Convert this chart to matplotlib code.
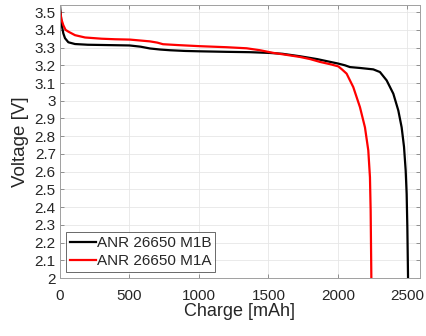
import matplotlib
matplotlib.use('Agg')
import matplotlib.pyplot as plt

plt.rcParams['font.family'] = ['Liberation Sans', 'DejaVu Sans']

# discharge curves
charge_m1b = [0, 5, 12, 24, 36, 60, 108, 200, 350, 500, 580, 647, 720, 791, 900,
              1002, 1200, 1367, 1504, 1600, 1727, 1850, 2000, 2050, 2086, 2158,
              2254, 2302, 2350, 2398, 2434, 2458, 2475, 2487, 2494, 2499, 2504]
volt_m1b = [3.54, 3.49, 3.43, 3.38, 3.353, 3.33, 3.32, 3.316, 3.314, 3.312, 3.305,
            3.295, 3.289, 3.285, 3.281, 3.279, 3.276, 3.274, 3.27, 3.265, 3.251,
            3.235, 3.21, 3.2, 3.19, 3.185, 3.177, 3.162, 3.115, 3.04, 2.945,
            2.85, 2.74, 2.606, 2.474, 2.285, 2.0]

charge_m1a = [0, 10, 24, 40, 60, 108, 180, 300, 396, 504, 647, 700, 741, 850, 1002,
              1200, 1343, 1439, 1535, 1620, 1727, 1800, 1871, 1950, 2002, 2030,
              2062, 2110, 2158, 2194, 2218, 2230, 2235, 2240]
volt_m1a = [3.51, 3.46, 3.426, 3.40, 3.39, 3.37, 3.357, 3.35, 3.347, 3.345, 3.335,
            3.328, 3.319, 3.314, 3.308, 3.302, 3.296, 3.285, 3.27, 3.26, 3.247,
            3.235, 3.219, 3.205, 3.194, 3.176, 3.153, 3.077, 2.964, 2.85, 2.72,
            2.568, 2.38, 2.0]

labels = ['ANR 26650 M1B', 'ANR 26650 M1A']
x_ticks = [0, 500, 1000, 1500, 2000, 2500]
y_ticks = [2.0, 2.1, 2.2, 2.3, 2.4, 2.5, 2.6, 2.7, 2.8, 2.9,
           3.0, 3.1, 3.2, 3.3, 3.4, 3.5]

txt = '#262626'

fig = plt.figure(figsize=(4.27, 3.36), dpi=100)
ax = fig.add_axes([0.1405, 0.1726, 0.8431, 0.8124])

ax.plot(charge_m1b, volt_m1b, color='black', lw=1.6, label=labels[0])
ax.plot(charge_m1a, volt_m1a, color='red', lw=1.6, label=labels[1])

ax.set_xlim(0, 2590)
ax.set_ylim(2.0, 3.54)
ax.set_xticks(x_ticks)
ax.set_yticks(y_ticks)
ax.set_yticklabels([f'{v:g}' for v in y_ticks])
ax.tick_params(direction='in', top=True, right=True, labelsize=11,
               color='#808080', labelcolor=txt, length=3, width=0.6, pad=3)
ax.tick_params(axis='x', pad=8)
ax.grid(True, color='#e6e6e6', lw=0.6)
ax.set_axisbelow(True)
for s in ax.spines.values():
    s.set_color('#a0a0a0')
    s.set_linewidth(0.7)

ax.set_xlabel('Charge [mAh]', fontsize=13, color=txt, va='center')
ax.set_ylabel('Voltage [V]', fontsize=13.5, color=txt, va='center')
ax.xaxis.set_label_coords(0.5, -0.124)
ax.yaxis.set_label_coords(-0.11, 0.5)

leg = ax.legend(loc='lower left', fontsize=11, frameon=True, fancybox=False,
                borderpad=0.25, handlelength=1.7, handletextpad=0.05,
                labelspacing=0.25, borderaxespad=0.4)
leg.get_frame().set_edgecolor('#262626')
leg.get_frame().set_linewidth(0.6)
for t in leg.get_texts():
    t.set_color(txt)

fig.savefig('out.png', dpi=100)
